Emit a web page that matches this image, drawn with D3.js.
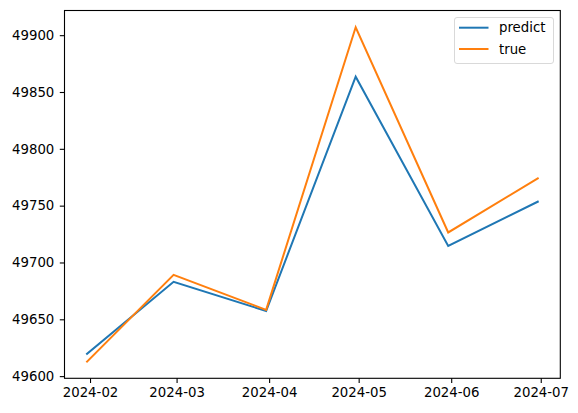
<!DOCTYPE html>
<html>
<head>
<meta charset="utf-8">
<script src="https://cdn.jsdelivr.net/npm/d3@7"></script>
<style>
  html, body { margin: 0; padding: 0; background: #fff; }
  svg { display: block; }
  text { font-family: "DejaVu Sans", sans-serif; }
</style>
</head>
<body>
<svg id="chart" width="578" height="413"></svg>
<script>
const dates = ["2024-01-31", "2024-02-29", "2024-03-31", "2024-04-30", "2024-05-31", "2024-06-30"];
const predictValues = [49619.7, 49683.0, 49657.3, 49863.5, 49714.5, 49753.5];
const trueValues = [49612.8, 49689.1, 49658.3, 49907.0, 49726.4, 49774.0];
const xTickLabels = ["2024-02", "2024-03", "2024-04", "2024-05", "2024-06", "2024-07"];
const yTickValues = [49600, 49650, 49700, 49750, 49800, 49850, 49900];
const seriesNames = ["predict", "true"];
const seriesColors = ["#1f77b4", "#ff7f0e"];

(function () {
const parse = d3.utcParse("%Y-%m-%d");
const parseMonth = d3.utcParse("%Y-%m");
const xDates = dates.map(parse);
const series = [predictValues, trueValues].map((vals, i) => ({
  name: seriesNames[i], color: seriesColors[i],
  points: vals.map((v, j) => ({ x: xDates[j], y: v }))
}));

const mL = 64.5, mR = 560.3, mT = 10.5, mB = 378.3;
const svg = d3.select("#chart");

// matplotlib-like 5% margins
const xExt = d3.extent(xDates);
const xSpan = xExt[1] - xExt[0];
const x = d3.scaleUtc()
  .domain([new Date(+xExt[0] - 0.05 * xSpan), new Date(+xExt[1] + 0.05 * xSpan)])
  .range([mL, mR]);
const allY = predictValues.concat(trueValues);
const yExt = d3.extent(allY);
const ySpan = yExt[1] - yExt[0];
const y = d3.scaleLinear()
  .domain([yExt[0] - 0.05 * ySpan, yExt[1] + 0.05 * ySpan])
  .range([mB, mT]);

// lines
const line = d3.line().x(d => x(d.x)).y(d => y(d.y));
series.forEach(s => {
  svg.append("path")
    .datum(s.points)
    .attr("d", line)
    .attr("fill", "none")
    .attr("stroke", s.color)
    .attr("stroke-width", 2)
    .attr("stroke-linejoin", "miter")
    .attr("stroke-linecap", "square");
});

// axes
const xAxis = d3.axisBottom(x)
  .tickValues(xTickLabels.map(parseMonth))
  .tickFormat(d3.utcFormat("%Y-%m"))
  .tickSize(4.7).tickPadding(5);
const yAxis = d3.axisLeft(y)
  .tickValues(yTickValues)
  .tickFormat(d3.format("d"))
  .tickSize(4.7).tickPadding(5.5);

const gx = svg.append("g").attr("transform", `translate(0,${mB})`).call(xAxis);
const gy = svg.append("g").attr("transform", `translate(${mL},0)`).call(yAxis);
[gx, gy].forEach(g => {
  g.select(".domain").remove();
  g.selectAll(".tick line").attr("stroke", "#000").attr("stroke-width", 1.1);
  g.selectAll(".tick text")
    .attr("fill", "#000")
    .style("font-family", "'DejaVu Sans', sans-serif")
    .style("font-size", "13.3px");
});

// spines
svg.append("rect")
  .attr("x", mL).attr("y", mT)
  .attr("width", mR - mL).attr("height", mB - mT)
  .attr("fill", "none").attr("stroke", "#000").attr("stroke-width", 1.1);

// legend
const lg = svg.append("g");
lg.append("rect")
  .attr("x", 454.5).attr("y", 17.5).attr("width", 99).attr("height", 46)
  .attr("rx", 2.5).attr("ry", 2.5)
  .attr("fill", "#fff").attr("fill-opacity", 0.8)
  .attr("stroke", "#d9d9d9").attr("stroke-width", 1);
series.forEach((s, i) => {
  const yy = 27.7 + i * 21.3;
  lg.append("line")
    .attr("x1", 459).attr("x2", 488.5).attr("y1", yy).attr("y2", yy)
    .attr("stroke", s.color).attr("stroke-width", 2);
  lg.append("text")
    .attr("x", 499).attr("y", yy).attr("dy", "0.35em")
    .style("font-size", "13.3px")
    .attr("fill", "#000")
    .text(s.name);
});
})();
</script>
</body>
</html>
